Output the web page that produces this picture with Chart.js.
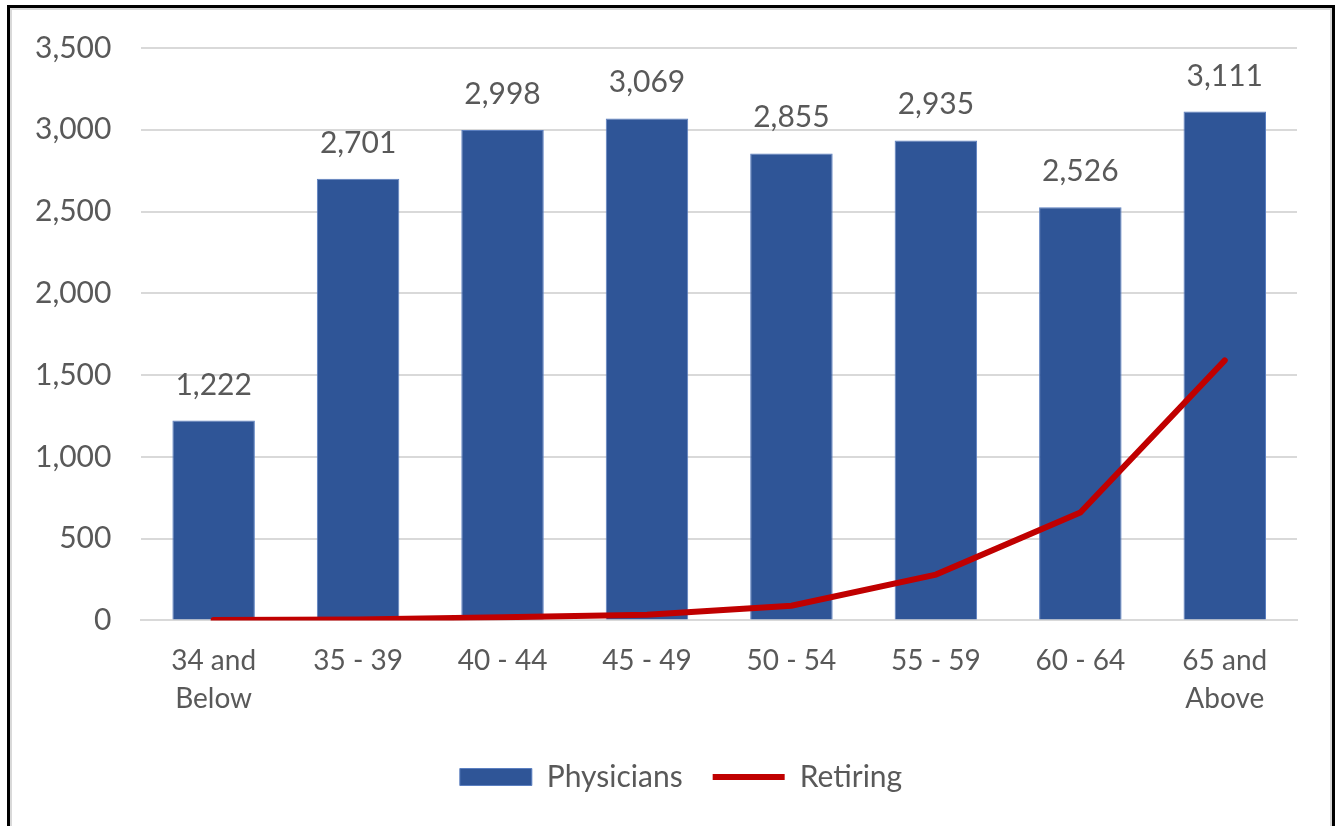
<!DOCTYPE html>
<html lang="en">
<head>
    <meta charset="UTF-8">
    <title>Physicians by age group</title>
    <script src="https://cdn.jsdelivr.net/npm/chart.js"></script>
    <style>
        html, body {
            margin: 0;
            padding: 0;
            background: #ffffff;
            overflow: hidden;
        }
        .frame {
            position: absolute;
            left: 7px;
            top: 5px;
            width: 1322px;
            height: 900px;
            border: 3px solid #000000;
        }
        .frame-inner {
            position: absolute;
            left: 0;
            top: 0;
            right: 0;
            bottom: 0;
            border: 2px solid #d9d9d9;
        }
        .chart-box {
            position: absolute;
            left: 0;
            top: 0;
            width: 1340px;
            height: 826px;
        }
    </style>
</head>
<body>
    <div class="frame"><div class="frame-inner"></div></div>
    <div class="chart-box">
        <canvas id="ageChart"></canvas>
    </div>

<script>
    // data
    const ageGroups = [["34 and", "Below"], "35 - 39", "40 - 44", "45 - 49", "50 - 54", "55 - 59", "60 - 64", ["65 and", "Above"]];
    const physicians = [1222, 2701, 2998, 3069, 2855, 2935, 2526, 3111];
    const retiring = [3, 5, 20, 35, 90, 280, 660, 1590];
    const yTicks = [0, 500, 1000, 1500, 2000, 2500, 3000, 3500];

    const textColor = "#595959";
    const fontFamily = "Lato, 'Open Sans', sans-serif";

    // labels above the bars
    const barLabels = {
        id: "barLabels",
        afterDatasetsDraw(chart) {
            const ctx = chart.ctx;
            const meta = chart.getDatasetMeta(0);
            ctx.save();
            ctx.font = "30px " + fontFamily;
            ctx.fillStyle = textColor;
            ctx.textAlign = "center";
            ctx.textBaseline = "alphabetic";
            meta.data.forEach((bar, i) => {
                ctx.fillText(physicians[i].toLocaleString("en-US"), bar.x, bar.y - 26);
            });
            ctx.restore();
        }
    };

    // legend sits a bit right of centre in the original
    const legendShift = {
        id: "legendShift",
        afterLayout(chart) {
            chart.legend.left += 30;
            chart.legend.right += 30;
        }
    };

    const ctx = document.getElementById("ageChart").getContext("2d");
    new Chart(ctx, {
        type: "bar",
        data: {
            labels: ageGroups,
            datasets: [{
                label: "Physicians",
                data: physicians,
                backgroundColor: "#2f5597",
                borderColor: "#5b7fc0",
                borderWidth: 1,
                barPercentage: 0.571,
                categoryPercentage: 1,
                pointStyle: "rect",
                order: 1
            }, {
                type: "line",
                label: "Retiring",
                data: retiring,
                borderColor: "#c00000",
                backgroundColor: "#c00000",
                borderWidth: 6,
                borderCapStyle: "round",
                tension: 0,
                pointRadius: 0,
                pointStyle: "line",
                order: 0
            }]
        },
        options: {
            responsive: true,
            maintainAspectRatio: false,
            animation: false,
            layout: {
                padding: { left: 5, right: 43, top: 48, bottom: 24 }
            },
            plugins: {
                tooltip: { enabled: false },
                legend: {
                    position: "bottom",
                    labels: {
                        usePointStyle: true,
                        pointStyleWidth: 72,
                        boxHeight: 17,
                        padding: 30,
                        color: textColor,
                        font: { family: fontFamily, size: 30 },
                        sort: (a, b) => a.datasetIndex - b.datasetIndex
                    }
                }
            },
            scales: {
                x: {
                    grid: { display: false },
                    border: { color: "#d9d9d9", width: 2 },
                    ticks: {
                        color: textColor,
                        padding: 14,
                        maxRotation: 0,
                        font: { family: fontFamily, size: 28, lineHeight: 1.35 }
                    }
                },
                y: {
                    min: 0,
                    max: 3500,
                    afterBuildTicks: axis => {
                        axis.ticks = yTicks.map(v => ({ value: v }));
                    },
                    border: { display: false },
                    grid: { color: "#d9d9d9", lineWidth: 2, drawTicks: false },
                    ticks: {
                        color: textColor,
                        padding: 30,
                        font: { family: fontFamily, size: 30 },
                        callback: v => v.toLocaleString("en-US")
                    }
                }
            }
        },
        plugins: [barLabels, legendShift]
    });
</script>
</body>
</html>
